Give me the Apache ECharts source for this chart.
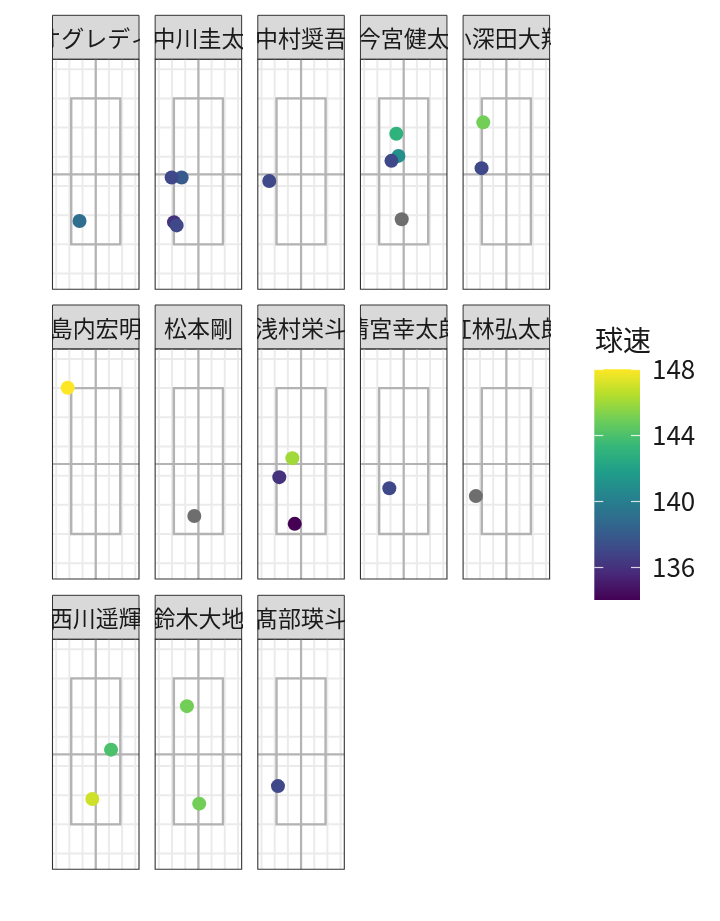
<!DOCTYPE html>
<html><head><meta charset="utf-8">
<script src="https://cdn.jsdelivr.net/npm/echarts@6.0.0/dist/echarts.min.js"></script>
<style>html,body{margin:0;padding:0;background:#fff}#c{width:720px;height:921px}</style>
</head><body><div id="c"></div>
<script>
// ---------- data ----------
const players = ['オグレディ','中川圭太','中村奨吾','今宮健太','小深田大翔','島内宏明','松本剛','浅村栄斗','清宮幸太郎','紅林弘太郎','西川遥輝','鈴木大地','髙部瑛斗'];
const pitchPlayer = [0, 1,1,1,1, 2, 3,3,3,3, 4,4, 5, 6, 7,7,7, 8, 9, 10,10, 11,11, 12];
const plateX = [-1.23, -1.27,-2.03,-1.85,-1.65, -2.41, -0.56,-0.40,-0.93,-0.15, -1.75,-1.88, -2.13, -0.31, -0.66,-1.65,-0.48, -1.09, -2.31, 1.16,-0.26, -0.87,0.06, -1.75];
const plateZ = [1.80, 3.29,3.29,1.76,1.65, 3.17, 4.79,4.03,3.86,1.86, 5.18,3.61, 6.01, 1.62, 3.60,2.95,1.35, 2.57, 2.30, 3.56,1.87, 5.05,1.71, 2.31];
const speed = [139, 138,137,136,137, 137, 143,141,137,null, 145,137, 148, null, 146,136,134, 137, null, 144,147, 145,145, 137];

// axis breaks / limits
const xBreaks = [-3,-2,-1,0,1,2,3];
const yBreaks = [0,1,2,3,4,5,6,7];
const xLimits = [-3.28, 3.28];
const yLimits = [-0.54, 7.34];
const zoneX = [-1.86, 1.86];
const zoneZ = [1, 6];
const centerX = 0;
const centerZ = 3.40;
const speedLimits = [134, 148];
const legendBreaks = [136, 140, 144, 148];
const viridis = ['#440154','#482878','#3E4A89','#31688E','#26828E','#1F9E89','#35B779','#6DCD59','#B4DE2C','#FDE725'];

// ---------- layout ----------
const FONT = '"Noto Sans CJK JP", "Noto Sans", sans-serif';
const NCOL = 5;
const colLeft0 = 52.5, colStep = 102.65, panelW = 86.5, panelH = 230;
const rowTops = [59.3, 349, 639.3];
const stripH = 44;

const grids = [], xAxes = [], yAxes = [], series = [];
const coloredSeriesIdx = [];

function panelRender(params, api) {
  const cs = params.coordSys;
  const T = cs.y, B = cs.y + cs.height, L = cs.x, R = cs.x + cs.width;
  const ch = [];
  xBreaks.forEach(v => {
    const p = api.coord([v, yLimits[0]])[0];
    ch.push({type:'line', shape:{x1:p, y1:T, x2:p, y2:B}, style:{stroke:'#EBEBEB', lineWidth:2}});
  });
  yBreaks.forEach(v => {
    const p = api.coord([xLimits[0], v])[1];
    ch.push({type:'line', shape:{x1:L, y1:p, x2:R, y2:p}, style:{stroke:'#EBEBEB', lineWidth:2}});
  });
  const cx = api.coord([centerX, centerZ]);
  ch.push({type:'line', shape:{x1:cx[0], y1:T, x2:cx[0], y2:B}, style:{stroke:'#B3B3B3', lineWidth:2.2}});
  ch.push({type:'line', shape:{x1:L, y1:cx[1], x2:R, y2:cx[1]}, style:{stroke:'#B3B3B3', lineWidth:2.2}});
  const a = api.coord([zoneX[0], zoneZ[1]]), b = api.coord([zoneX[1], zoneZ[0]]);
  ch.push({type:'rect', shape:{x:a[0], y:a[1], width:b[0]-a[0], height:b[1]-a[1]}, style:{fill:'none', stroke:'#B3B3B3', lineWidth:2.4}});
  ch.push({type:'rect', shape:{x:L, y:T, width:cs.width, height:cs.height}, style:{fill:'none', stroke:'#333333', lineWidth:1.1}});
  return {type:'group', children: ch};
}

players.forEach((name, i) => {
  const r = Math.floor(i / NCOL), c = i % NCOL;
  const left = colLeft0 + c * colStep, top = rowTops[r];
  const gPanel = grids.length;
  grids.push({left, top, width: panelW, height: panelH, show: false});
  xAxes.push({gridIndex: gPanel, type:'value', min: xLimits[0], max: xLimits[1], show: false});
  yAxes.push({gridIndex: gPanel, type:'value', min: yLimits[0], max: yLimits[1], show: false});
  const ax = xAxes.length - 1;
  series.push({type:'custom', xAxisIndex: ax, yAxisIndex: ax, data: [[0, 0]], renderItem: panelRender, silent: true, z: 1});
  const pts = [], naPts = [];
  pitchPlayer.forEach((p, k) => {
    if (p !== i) return;
    if (speed[k] == null) naPts.push([plateX[k], plateZ[k]]);
    else pts.push([plateX[k], plateZ[k], speed[k]]);
  });
  if (naPts.length) series.push({type:'scatter', xAxisIndex: ax, yAxisIndex: ax, data: naPts, symbolSize: 14, itemStyle:{color:'#6E6E6E', opacity: 1}, z: 3});
  if (pts.length) { coloredSeriesIdx.push(series.length); series.push({type:'scatter', xAxisIndex: ax, yAxisIndex: ax, data: pts, symbolSize: 14, itemStyle:{opacity: 1}, z: 3}); }
  const gStrip = grids.length;
  grids.push({left, top: top - stripH, width: panelW, height: stripH, show: true, backgroundColor:'#D9D9D9', borderColor:'#333333', borderWidth: 1});
  xAxes.push({gridIndex: gStrip, type:'value', min: 0, max: 1, show: false});
  yAxes.push({gridIndex: gStrip, type:'value', min: 0, max: 1, show: false});
  const sx = xAxes.length - 1;
  series.push({type:'custom', xAxisIndex: sx, yAxisIndex: sx, data: [[0.5, 0.5]], clip: true, silent: true, z: 2,
    renderItem: (params, api) => {
      const p = api.coord([0.5, 0.5]);
      return {type:'text', style:{text: name, x: p[0], y: p[1] + 1, align:'center', verticalAlign:'middle', font: '23px ' + FONT, fill:'#1A1A1A'}};
    }});
});

// legend colourbar grid
const gLeg = grids.length;
grids.push({left: 594.3, top: 369.3, width: 45.7, height: 230.7, show: false});
xAxes.push({gridIndex: gLeg, type:'value', min: 0, max: 1, show: false});
const legAxisBase = {gridIndex: gLeg, type:'value', min: speedLimits[0], max: speedLimits[1], z: 10,
  axisLine:{show:false}, splitLine:{show:false},
  axisTick:{show:true, inside:true, length: 9, lineStyle:{color:'rgba(255,255,255,0.8)', width:1.2}, customValues: legendBreaks}};
yAxes.push(Object.assign({}, legAxisBase, {position:'left', axisLabel:{show:false}}));
const legY = yAxes.length - 1;
yAxes.push(Object.assign({}, legAxisBase, {position:'right', axisLabel:{show:true, customValues: legendBreaks, fontSize: 26, fontFamily: FONT, color:'#1A1A1A', margin: 12}}));
series.push({type:'custom', xAxisIndex: xAxes.length - 1, yAxisIndex: legY, data: [[0, speedLimits[0]]], silent: true, z: 1,
  renderItem: (params, api) => {
    const cs = params.coordSys;
    const stops = viridis.map((col, k) => ({offset: k / (viridis.length - 1), color: col}));
    return {type:'rect', shape:{x: cs.x, y: cs.y, width: cs.width, height: cs.height},
      style:{fill: new echarts.graphic.LinearGradient(0, 1, 0, 0, stops)}};
  }});

const chart = echarts.init(document.getElementById('c'), null, {renderer:'canvas'});
chart.setOption({
  animation: false,
  backgroundColor: '#ffffff',
  title: {text:'球速', left: 595, top: 326, padding: 0, textStyle:{fontSize: 28, fontWeight:'normal', color:'#1A1A1A', fontFamily: FONT}},
  grid: grids, xAxis: xAxes, yAxis: yAxes,
  visualMap: {type:'continuous', show:false, min: speedLimits[0], max: speedLimits[1], dimension: 2, seriesIndex: coloredSeriesIdx, inRange:{color: viridis}},
  series
});
</script></body></html>
